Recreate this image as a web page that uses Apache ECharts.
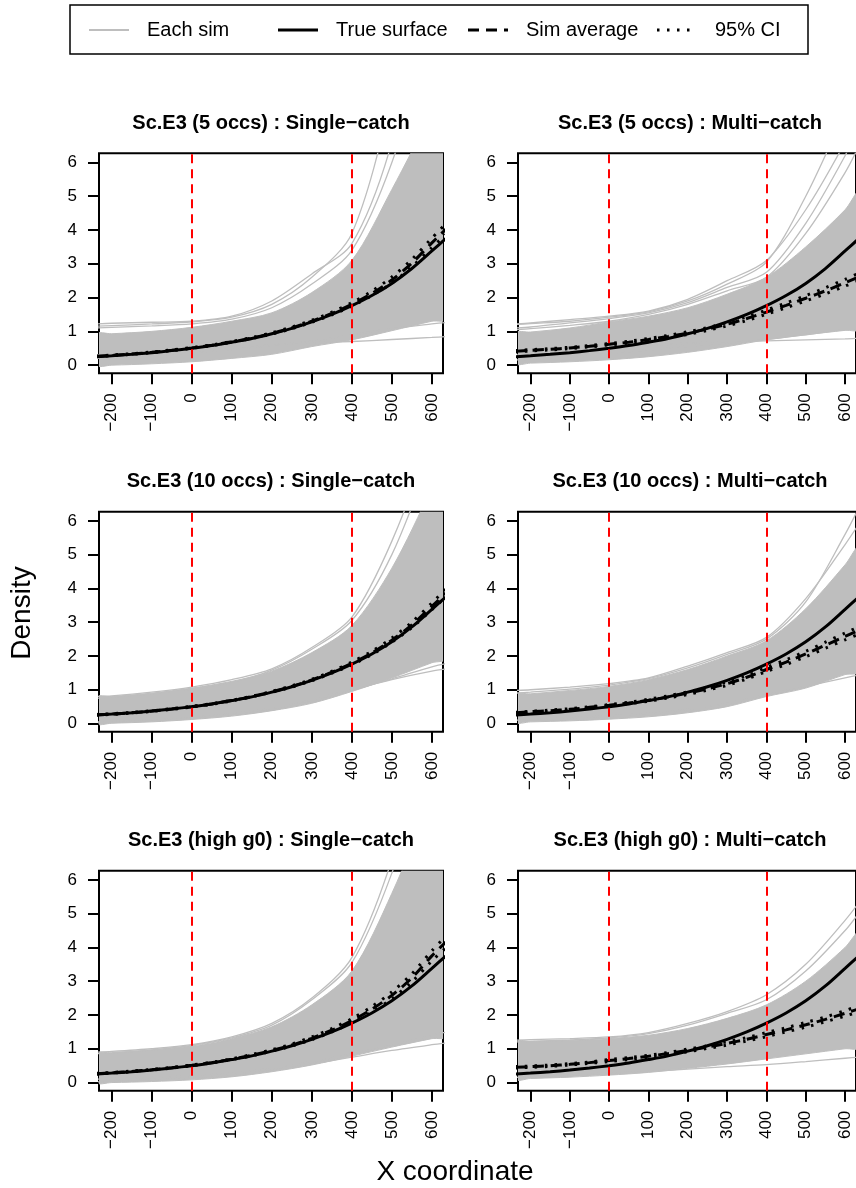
<!DOCTYPE html>
<html>
<head>
<meta charset="utf-8">
<script src="https://cdn.jsdelivr.net/npm/echarts@6/dist/echarts.min.js"></script>
<style>
  html, body { margin: 0; padding: 0; background: #ffffff; }
  #chart { width: 856px; height: 1188px; }
</style>
</head>
<body>
<div id="chart"></div>
<script>
// x positions of the fitted density curves
const xFine = [-240, -200, -150, -100, -50, 0, 50, 100, 150, 200, 250, 300, 350, 400, 450, 500, 550, 600, 640];
// coarser x positions for the simulation envelopes
const xCoarse = [-240, -200, -100, 0, 100, 200, 300, 400, 500, 600, 640];

const xTicks = [-200, -100, 0, 100, 200, 300, 400, 500, 600];
const yTicks = [0, 1, 2, 3, 4, 5, 6];
const refLines = [0, 400];

const panelTitles = [
  'Sc.E3 (5 occs) : Single\u2212catch',
  'Sc.E3 (5 occs) : Multi\u2212catch',
  'Sc.E3 (10 occs) : Single\u2212catch',
  'Sc.E3 (10 occs) : Multi\u2212catch',
  'Sc.E3 (high g0) : Single\u2212catch',
  'Sc.E3 (high g0) : Multi\u2212catch'
];

const trueSurface = [0.25, 0.28, 0.32, 0.37, 0.43, 0.50, 0.58, 0.68, 0.79, 0.93, 1.09, 1.28, 1.50, 1.76, 2.06, 2.42, 2.86, 3.38, 3.80];

// --- 5 occasions, single-catch
const avg5S  = [0.26, 0.29, 0.33, 0.38, 0.44, 0.51, 0.59, 0.69, 0.80, 0.94, 1.10, 1.30, 1.53, 1.80, 2.12, 2.52, 3.02, 3.62, 4.08];
const ciHi5S = [0.27, 0.30, 0.34, 0.39, 0.45, 0.52, 0.60, 0.70, 0.82, 0.96, 1.13, 1.33, 1.57, 1.85, 2.19, 2.61, 3.13, 3.76, 4.25];
const ciLo5S = [0.25, 0.28, 0.32, 0.37, 0.43, 0.50, 0.58, 0.68, 0.79, 0.92, 1.08, 1.27, 1.49, 1.75, 2.06, 2.43, 2.91, 3.48, 3.92];
const bandLo5S = [0.0, 0.0, 0.04, 0.1, 0.2, 0.32, 0.55, 0.75, 1.02, 1.3, 1.38];
const bandHi5S = [0.92, 0.93, 1.0, 1.12, 1.3, 1.55, 2.15, 3.1, 5.2, 7.5, 8.5];
const sims5S = [
  [1.15, 1.17, 1.22, 1.28, 1.42, 1.8, 2.6, 3.9, 8, 14, 18],
  [1.22, 1.24, 1.27, 1.3, 1.45, 1.9, 2.7, 3.6, 6.6, 12, 15],
  [1.1, 1.12, 1.16, 1.22, 1.36, 1.7, 2.4, 3.4, 6.0, 10, 13],
  [0.3, 0.32, 0.38, 0.45, 0.52, 0.6, 0.66, 0.7, 0.76, 0.82, 0.85],
  [0.2, 0.22, 0.28, 0.36, 0.46, 0.58, 0.72, 0.9, 1.08, 1.22, 1.27]
];

// --- 5 occasions, multi-catch
const avg5M  = [0.41, 0.44, 0.47, 0.51, 0.56, 0.62, 0.68, 0.76, 0.85, 0.95, 1.07, 1.21, 1.38, 1.57, 1.77, 1.98, 2.20, 2.44, 2.64];
const ciHi5M = [0.43, 0.46, 0.49, 0.53, 0.58, 0.64, 0.71, 0.79, 0.88, 0.99, 1.11, 1.26, 1.43, 1.63, 1.84, 2.06, 2.29, 2.54, 2.75];
const ciLo5M = [0.39, 0.42, 0.45, 0.49, 0.54, 0.60, 0.65, 0.73, 0.82, 0.91, 1.03, 1.16, 1.32, 1.51, 1.70, 1.90, 2.11, 2.34, 2.53];
const bandLo5M = [0.05, 0.06, 0.1, 0.16, 0.25, 0.38, 0.55, 0.75, 0.9, 1.03, 1.08];
const bandHi5M = [0.95, 0.98, 1.1, 1.28, 1.45, 1.7, 2.1, 2.6, 3.5, 4.6, 5.2];
const sims5M = [
  [1.22, 1.25, 1.35, 1.45, 1.6, 1.95, 2.5, 3.1, 4.6, 6.6, 7.6],
  [1.2, 1.23, 1.3, 1.42, 1.58, 1.9, 2.4, 3.05, 5.0, 7.5, 8.6],
  [1.1, 1.13, 1.25, 1.38, 1.55, 1.85, 2.3, 2.75, 4.2, 6.2, 7.2],
  [1.05, 1.08, 1.18, 1.3, 1.5, 1.8, 2.2, 2.6, 3.9, 5.7, 6.6],
  [0.3, 0.34, 0.42, 0.5, 0.58, 0.65, 0.7, 0.72, 0.75, 0.78, 0.8],
  [0.15, 0.18, 0.25, 0.35, 0.45, 0.56, 0.66, 0.76, 0.9, 1.05, 1.1]
];

// --- 10 occasions, single-catch
const avg10S  = [0.26, 0.28, 0.32, 0.37, 0.43, 0.50, 0.58, 0.68, 0.80, 0.94, 1.10, 1.29, 1.52, 1.78, 2.09, 2.47, 2.92, 3.47, 3.92];
const ciHi10S = [0.27, 0.29, 0.33, 0.38, 0.44, 0.51, 0.59, 0.69, 0.81, 0.95, 1.12, 1.31, 1.55, 1.82, 2.14, 2.53, 3.00, 3.57, 4.04];
const ciLo10S = [0.25, 0.27, 0.31, 0.36, 0.42, 0.49, 0.57, 0.67, 0.79, 0.93, 1.08, 1.27, 1.49, 1.74, 2.04, 2.41, 2.84, 3.37, 3.80];
const bandLo10S = [0.0, 0.01, 0.05, 0.12, 0.22, 0.38, 0.6, 0.95, 1.35, 1.8, 1.95];
const bandHi10S = [0.78, 0.8, 0.9, 1.05, 1.25, 1.55, 2.1, 2.9, 4.6, 7.0, 8.2];
const sims10S = [
  [0.8, 0.82, 0.93, 1.08, 1.3, 1.62, 2.25, 3.15, 5.4, 8.6, 10.5],
  [0.75, 0.78, 0.88, 1.02, 1.22, 1.58, 2.2, 3.05, 5.0, 8.0, 9.5],
  [0.05, 0.06, 0.1, 0.18, 0.3, 0.45, 0.7, 1.0, 1.3, 1.55, 1.62],
  [0.02, 0.03, 0.08, 0.15, 0.26, 0.4, 0.64, 0.98, 1.32, 1.68, 1.78]
];

// --- 10 occasions, multi-catch
const avg10M  = [0.32, 0.35, 0.38, 0.42, 0.48, 0.54, 0.61, 0.69, 0.79, 0.90, 1.03, 1.18, 1.37, 1.60, 1.82, 2.06, 2.32, 2.58, 2.78];
const ciHi10M = [0.33, 0.36, 0.40, 0.44, 0.50, 0.56, 0.63, 0.72, 0.82, 0.94, 1.07, 1.23, 1.42, 1.66, 1.89, 2.14, 2.41, 2.68, 2.89];
const ciLo10M = [0.31, 0.34, 0.36, 0.40, 0.46, 0.52, 0.59, 0.66, 0.76, 0.86, 0.99, 1.13, 1.32, 1.54, 1.75, 1.98, 2.23, 2.48, 2.67];
const bandLo10M = [0.04, 0.05, 0.08, 0.13, 0.2, 0.32, 0.5, 0.8, 1.05, 1.45, 1.55];
const bandHi10M = [0.85, 0.88, 0.98, 1.1, 1.3, 1.6, 2.0, 2.45, 3.4, 4.7, 5.3];
const sims10M = [
  [0.98, 1.0, 1.08, 1.18, 1.35, 1.7, 2.1, 2.55, 3.7, 5.3, 6.0],
  [0.9, 0.93, 1.02, 1.14, 1.33, 1.65, 2.05, 2.5, 3.6, 5.6, 6.5],
  [0.1, 0.12, 0.17, 0.23, 0.3, 0.42, 0.6, 0.85, 1.1, 1.35, 1.45]
];

// --- high g0, single-catch
const avgGS  = [0.26, 0.29, 0.33, 0.38, 0.44, 0.51, 0.59, 0.69, 0.81, 0.95, 1.11, 1.31, 1.55, 1.83, 2.17, 2.58, 3.10, 3.75, 4.22];
const ciHiGS = [0.27, 0.30, 0.34, 0.39, 0.45, 0.52, 0.60, 0.70, 0.83, 0.97, 1.14, 1.35, 1.60, 1.89, 2.25, 2.68, 3.22, 3.90, 4.40];
const ciLoGS = [0.25, 0.28, 0.32, 0.37, 0.43, 0.50, 0.58, 0.68, 0.79, 0.93, 1.08, 1.27, 1.50, 1.77, 2.09, 2.48, 2.98, 3.60, 4.04];
const bandLoGS = [0.0, 0.0, 0.03, 0.08, 0.17, 0.32, 0.52, 0.78, 1.05, 1.3, 1.38];
const bandHiGS = [0.85, 0.88, 0.96, 1.08, 1.3, 1.65, 2.3, 3.3, 5.6, 8.5, 10];
const simsGS = [
  [0.9, 0.92, 1.0, 1.12, 1.35, 1.75, 2.5, 3.7, 6.6, 11, 13],
  [0.85, 0.88, 0.97, 1.1, 1.32, 1.7, 2.45, 3.55, 6.2, 10, 12],
  [0.02, 0.03, 0.07, 0.12, 0.2, 0.35, 0.55, 0.75, 0.95, 1.12, 1.18],
  [0.1, 0.12, 0.15, 0.2, 0.28, 0.42, 0.62, 0.85, 1.1, 1.4, 1.5]
];

// --- high g0, multi-catch
const avgGM  = [0.45, 0.47, 0.50, 0.54, 0.59, 0.65, 0.71, 0.78, 0.86, 0.95, 1.05, 1.16, 1.28, 1.42, 1.56, 1.71, 1.87, 2.05, 2.20];
const ciHiGM = [0.47, 0.49, 0.52, 0.56, 0.61, 0.68, 0.74, 0.81, 0.89, 0.99, 1.09, 1.21, 1.33, 1.48, 1.62, 1.78, 1.94, 2.13, 2.29];
const ciLoGM = [0.43, 0.45, 0.48, 0.52, 0.57, 0.62, 0.68, 0.75, 0.83, 0.91, 1.01, 1.11, 1.23, 1.36, 1.50, 1.64, 1.80, 1.97, 2.11];
const bandLoGM = [0.1, 0.12, 0.16, 0.22, 0.3, 0.42, 0.55, 0.7, 0.85, 1.0, 1.05];
const bandHiGM = [1.2, 1.22, 1.25, 1.3, 1.4, 1.6, 1.9, 2.3, 3.0, 4.0, 4.5];
const simsGM = [
  [1.25, 1.27, 1.3, 1.35, 1.48, 1.75, 2.1, 2.6, 3.5, 4.8, 5.4],
  [1.2, 1.22, 1.26, 1.32, 1.45, 1.7, 2.05, 2.45, 3.3, 4.5, 5.1],
  [0.15, 0.18, 0.23, 0.28, 0.33, 0.4, 0.47, 0.53, 0.62, 0.72, 0.76]
];

const panels = [
  { avg: avg5S,  ciLo: ciLo5S,  ciHi: ciHi5S,  bandLo: bandLo5S,  bandHi: bandHi5S,  sims: sims5S },
  { avg: avg5M,  ciLo: ciLo5M,  ciHi: ciHi5M,  bandLo: bandLo5M,  bandHi: bandHi5M,  sims: sims5M },
  { avg: avg10S, ciLo: ciLo10S, ciHi: ciHi10S, bandLo: bandLo10S, bandHi: bandHi10S, sims: sims10S },
  { avg: avg10M, ciLo: ciLo10M, ciHi: ciHi10M, bandLo: bandLo10M, bandHi: bandHi10M, sims: sims10M },
  { avg: avgGS,  ciLo: ciLoGS,  ciHi: ciHiGS,  bandLo: bandLoGS,  bandHi: bandHiGS,  sims: simsGS },
  { avg: avgGM,  ciLo: ciLoGM,  ciHi: ciHiGM,  bandLo: bandLoGM,  bandHi: bandHiGM,  sims: simsGM }
];

// ---- layout
const FONT = '"Liberation Sans", Arial, Helvetica, sans-serif';
const colLeft = [99, 518];
const rowTop = [153.3, 511.7, 870.7];
const plotW = 344, plotH = 220;
const titleOffset = 30;
const GREY = '#bebebe';

const pair = (xs, ys) => xs.map((x, k) => [x, ys[k]]);
const minusSign = v => String(v).replace('-', '\u2212');

const grids = [], xAxes = [], yAxes = [], series = [], graphics = [];

panels.forEach((p, i) => {
  const col = i % 2, row = Math.floor(i / 2);
  const left = colLeft[col], top = rowTop[row];
  grids.push({
    left: left, top: top, width: plotW, height: plotH,
    show: true, borderColor: '#000', borderWidth: 2, backgroundColor: 'transparent',
    containLabel: false
  });
  xAxes.push({
    type: 'value', gridIndex: i, position: 'bottom', min: -231.8, max: 627.8,
    axisLine: { show: false, onZero: false },
    splitLine: { show: false },
    axisTick: { show: true, length: 11, customValues: xTicks, lineStyle: { color: '#000', width: 2 } },
    axisLabel: {
      show: true, customValues: xTicks, rotate: 90, margin: 20,
      color: '#000', fontSize: 17, fontFamily: FONT, formatter: minusSign
    }
  });
  yAxes.push({
    type: 'value', gridIndex: i, position: 'left', min: -0.2412, max: 6.2712,
    axisLine: { show: false, onZero: false },
    splitLine: { show: false },
    axisTick: { show: true, length: 11, customValues: yTicks, lineStyle: { color: '#000', width: 2 } },
    axisLabel: {
      show: true, customValues: yTicks, margin: 22,
      color: '#000', fontSize: 17, fontFamily: FONT
    }
  });

  // dense part of the simulation fan
  series.push({
    type: 'custom', name: 'Each sim', xAxisIndex: i, yAxisIndex: i,
    clip: true, silent: true,
    data: xCoarse.map((x, k) => [x, p.bandLo[k], p.bandHi[k]]),
    encode: { x: 0, y: [1, 2] },
    renderItem: (params, api) => {
      if (params.dataIndex !== 1) return null;
      const upper = xCoarse.map((x, k) => api.coord([x, p.bandHi[k]]));
      const lower = xCoarse.map((x, k) => api.coord([x, p.bandLo[k]])).reverse();
      return {
        type: 'polygon',
        shape: { points: upper.concat(lower), smooth: 0.3 },
        style: { fill: GREY, stroke: GREY, lineWidth: 1 }
      };
    }
  });

  // individual simulation curves at the edges of the fan
  p.sims.forEach((s, k) => {
    const s0 = {
      type: 'line', name: 'Each sim', xAxisIndex: i, yAxisIndex: i,
      data: pair(xCoarse, s), smooth: 0.3, symbol: 'none', clip: true, silent: true,
      lineStyle: { color: GREY, width: 1.3 }
    };
    if (k === p.sims.length - 1) {
      s0.markLine = {
        silent: true, symbol: 'none', label: { show: false },
        lineStyle: { color: '#ff0000', width: 2, type: [9, 6] },
        data: refLines.map(v => ({ xAxis: v }))
      };
    }
    series.push(s0);
  });

  series.push({
    type: 'line', name: 'True surface', xAxisIndex: i, yAxisIndex: i,
    data: pair(xFine, trueSurface), smooth: 0.3, symbol: 'none', clip: true, silent: true,
    lineStyle: { color: '#000', width: 3 }
  });
  [p.ciLo, p.ciHi].forEach(ci => {
    series.push({
      type: 'line', name: '95% CI', xAxisIndex: i, yAxisIndex: i,
      data: pair(xFine, ci), smooth: 0.3, symbol: 'none', clip: true, silent: true,
      lineStyle: { color: '#000', width: 3, type: [2.5, 7.5] }
    });
  });
  series.push({
    type: 'line', name: 'Sim average', xAxisIndex: i, yAxisIndex: i,
    data: pair(xFine, p.avg), smooth: 0.3, symbol: 'none', clip: true, silent: true,
    lineStyle: { color: '#000', width: 3, type: [11, 7] }
  });

  graphics.push({
    type: 'text', x: left + plotW / 2, y: top - titleOffset, silent: true,
    style: {
      text: panelTitles[i], fill: '#000', font: 'bold 20px ' + FONT,
      textAlign: 'center', textVerticalAlign: 'middle', align: 'center', verticalAlign: 'middle'
    }
  });
});

// outer axis titles
graphics.push({
  type: 'text', x: 455, y: 1172, silent: true,
  style: { text: 'X coordinate', fill: '#000', font: '28px ' + FONT,
    textAlign: 'center', textVerticalAlign: 'middle', align: 'center', verticalAlign: 'middle' }
});
graphics.push({
  type: 'text', x: 22, y: 613, rotation: Math.PI / 2, silent: true,
  style: { text: 'Density', fill: '#000', font: '28px ' + FONT,
    textAlign: 'center', textVerticalAlign: 'middle', align: 'center', verticalAlign: 'middle' }
});

// legend frame and keys
const legendY = 30;
graphics.push({
  type: 'rect', silent: true, shape: { x: 70, y: 5, width: 738, height: 49 },
  style: { fill: 'none', stroke: '#000', lineWidth: 1.5 }
});
const legendKeys = [
  { label: 'Each sim',     x: 89,  style: { stroke: GREY, lineWidth: 2 } },
  { label: 'True surface', x: 278, style: { stroke: '#000', lineWidth: 3 } },
  { label: 'Sim average',  x: 468, style: { stroke: '#000', lineWidth: 3, lineDash: [11, 7] } },
  { label: '95% CI',       x: 657, style: { stroke: '#000', lineWidth: 3, lineDash: [2.5, 7.5] } }
];
legendKeys.forEach(k => {
  graphics.push({
    type: 'line', silent: true,
    shape: { x1: k.x, y1: legendY, x2: k.x + 40, y2: legendY },
    style: k.style
  });
  graphics.push({
    type: 'text', x: k.x + 58, y: legendY, silent: true,
    style: { text: k.label, fill: '#000', font: '20px ' + FONT,
      textAlign: 'left', textVerticalAlign: 'middle', align: 'left', verticalAlign: 'middle' }
  });
});

const chart = echarts.init(document.getElementById('chart'), null, { renderer: 'canvas' });
chart.setOption({
  animation: false,
  backgroundColor: '#ffffff',
  grid: grids,
  xAxis: xAxes,
  yAxis: yAxes,
  series: series,
  graphic: { elements: graphics }
});
</script>
</body>
</html>
